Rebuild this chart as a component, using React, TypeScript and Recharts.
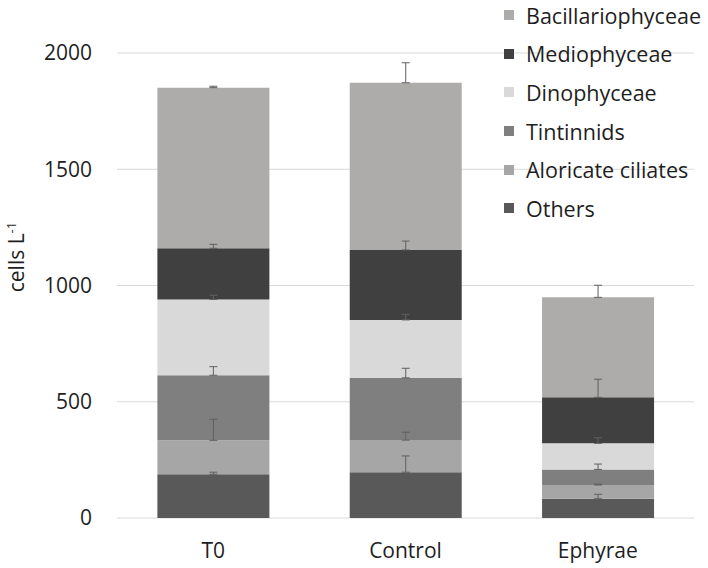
import React from 'react';
import { BarChart, Bar, XAxis, YAxis, CartesianGrid, Legend, ErrorBar } from 'recharts';

const categories = ['T0', 'Control', 'Ephyrae'];

// values per group (cells L-1), bottom of the stack first
const others = [188, 197, 83];
const aloricate = [146, 138, 59];
const tintinnids = [280, 268, 67];
const dinophyceae = [326, 249, 112];
const mediophyceae = [220, 301, 198];
const bacillariophyceae = [691, 719, 430];

// upper error (SD)
const othersErr = [9, 70, 19];
const aloricateErr = [91, 34, 4];
const tintinnidsErr = [37, 41, 23];
const dinophyceaeErr = [18, 24, 24];
const mediophyceaeErr = [17, 38, 78];
const bacillariophyceaeErr = [6, 86, 52];

const yTicks = [0, 500, 1000, 1500, 2000];

const series = [
  { key: 'others', name: 'Others', values: others, err: othersErr, color: '#595959' },
  { key: 'aloricate', name: 'Aloricate ciliates', values: aloricate, err: aloricateErr, color: '#a6a6a6' },
  { key: 'tintinnids', name: 'Tintinnids', values: tintinnids, err: tintinnidsErr, color: '#7f7f7f' },
  { key: 'dinophyceae', name: 'Dinophyceae', values: dinophyceae, err: dinophyceaeErr, color: '#d9d9d9' },
  { key: 'mediophyceae', name: 'Mediophyceae', values: mediophyceae, err: mediophyceaeErr, color: '#404040' },
  { key: 'bacillariophyceae', name: 'Bacillariophyceae', values: bacillariophyceae, err: bacillariophyceaeErr, color: '#aeabab' },
];

const data = categories.map((name, i) => {
  const row: Record<string, any> = { name };
  series.forEach((s) => {
    row[s.key] = s.values[i];
    row[s.key + 'Err'] = [0, s.err[i]];
  });
  return row;
});

const FONT = '"Open Sans", "Noto Sans", sans-serif';
const TEXT = '#1e1e1e';

function YLabel() {
  return (
    <text
      x={24}
      y={257}
      transform="rotate(-90, 24, 257)"
      textAnchor="middle"
      fontFamily={FONT}
      fontSize={21}
      fill={TEXT}
    >
      cells L
      <tspan fontSize={13} dy={-8}>-1</tspan>
    </text>
  );
}

function LegendList() {
  // Excel lists the stack from top to bottom
  return (
    <div style={{ fontFamily: FONT, fontSize: 21.5, color: TEXT, whiteSpace: 'nowrap' }}>
      {[...series].reverse().map((s) => (
        <div key={s.key} style={{ display: 'flex', alignItems: 'center', height: 38.6 }}>
          <span
            style={{ display: 'inline-block', flexShrink: 0, width: 10, height: 10, background: s.color, marginRight: 12 }}
          />
          <span>{s.name}</span>
        </div>
      ))}
    </div>
  );
}

export default function App() {
  return (
    <div style={{ position: 'absolute', left: 0, top: 0, width: 708, height: 568, background: '#fff' }}>
      <BarChart
        width={708}
        height={568}
        data={data}
        margin={{ top: 53, right: 14, bottom: 20, left: 0 }}
        barCategoryGap="21%"
      >
        <CartesianGrid vertical={false} stroke="#d9d9d9" />
        <XAxis
          dataKey="name"
          axisLine={false}
          tickLine={false}
          tickSize={0}
          tickMargin={25}
          height={30}
          tick={{ fontFamily: FONT, fontSize: 21, fill: TEXT }}
        />
        <YAxis
          domain={[0, 2000]}
          ticks={yTicks}
          axisLine={false}
          tickLine={false}
          tickSize={0}
          tickMargin={25}
          width={117}
          tick={{ fontFamily: FONT, fontSize: 21, fill: TEXT }}
          label={{ content: () => <YLabel /> }}
        />
        <Legend
          content={() => <LegendList />}
          wrapperStyle={{ top: -4, left: 504, width: 0, height: 0, overflow: 'visible' }}
        />
        {series.map((s) => (
          <Bar key={s.key} dataKey={s.key} name={s.name} stackId="a" fill={s.color} isAnimationActive={false}>
            <ErrorBar dataKey={s.key + 'Err'} direction="y" width={4} stroke="#606060" strokeWidth={1} />
          </Bar>
        ))}
      </BarChart>
    </div>
  );
}
